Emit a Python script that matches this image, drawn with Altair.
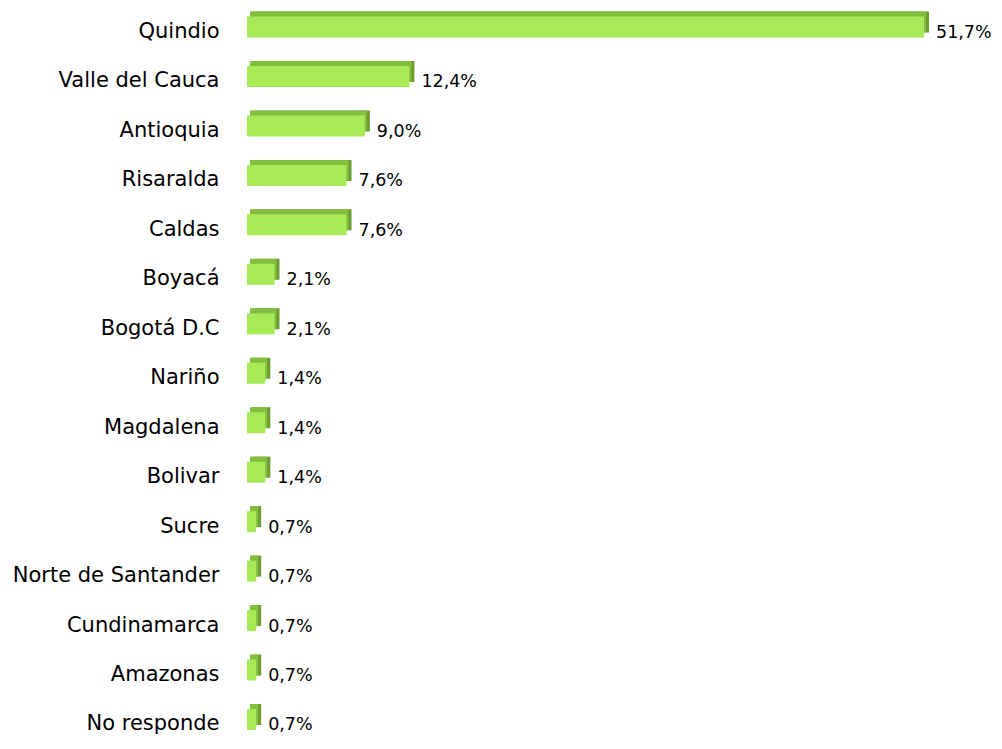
import altair as alt
import pandas as pd

categories = ["Quindio", "Valle del Cauca", "Antioquia", "Risaralda", "Caldas",
              "Boyacá", "Bogotá D.C", "Nariño", "Magdalena", "Bolivar", "Sucre",
              "Norte de Santander", "Cundinamarca", "Amazonas", "No responde"]
values = [51.7, 12.4, 9.0, 7.6, 7.6, 2.1, 2.1, 1.4, 1.4, 1.4, 0.7, 0.7, 0.7, 0.7, 0.7]
labels = ["51,7%", "12,4%", "9,0%", "7,6%", "7,6%", "2,1%", "2,1%", "1,4%", "1,4%",
          "1,4%", "0,7%", "0,7%", "0,7%", "0,7%", "0,7%"]

df = pd.DataFrame({"cat": categories, "v": values, "lab": labels})

FONT = "DejaVu Sans"
FRONT = "#A6EA57"
TOP = "#84BE3E"
SIDE = "#6C9C30"
D = 5
BAR_H = 21

y = alt.Y("cat:N", sort=categories, title=None,
          scale=alt.Scale(range=[-5.7, 736.2], paddingInner=0, paddingOuter=0),
          axis=alt.Axis(domain=False, ticks=False, labelPadding=28,
                        labelFont=FONT, labelFontSize=21, labelColor="#000000",
                        labelBaseline="alphabetic", labelOffset=11,
                        labelLimit=400))
x = alt.X("v:Q", title=None, scale=alt.Scale(domain=[0, 51.7], nice=False, zero=True),
          axis=None)

base = alt.Chart(df).encode(y=y)

side = base.mark_bar(color=SIDE, size=BAR_H, xOffset=D, x2Offset=D,
                     yOffset=-D, y2Offset=-D).encode(x=x, x2=alt.datum(0))
top = base.mark_bar(color=TOP, size=BAR_H, xOffset=D - 3, x2Offset=3,
                    yOffset=-D, y2Offset=-D).encode(x=x, x2=alt.datum(0))
front = base.mark_bar(color=FRONT, size=BAR_H).encode(x=x, x2=alt.datum(0))
text = base.mark_text(align="left", baseline="alphabetic", dx=12, dy=11, font=FONT,
                      fontSize=17.5, color="#000000").encode(x=x, text="lab:N")

chart = alt.layer(side, top, front, text).properties(
    width=677, height=728,
    autosize=alt.AutoSizeParams(type="none"),
    padding={"left": 239, "top": 0, "right": 70, "bottom": 0},
).configure_view(stroke=None)

chart.save("out.html", embed_options={"renderer": "svg", "actions": False})
